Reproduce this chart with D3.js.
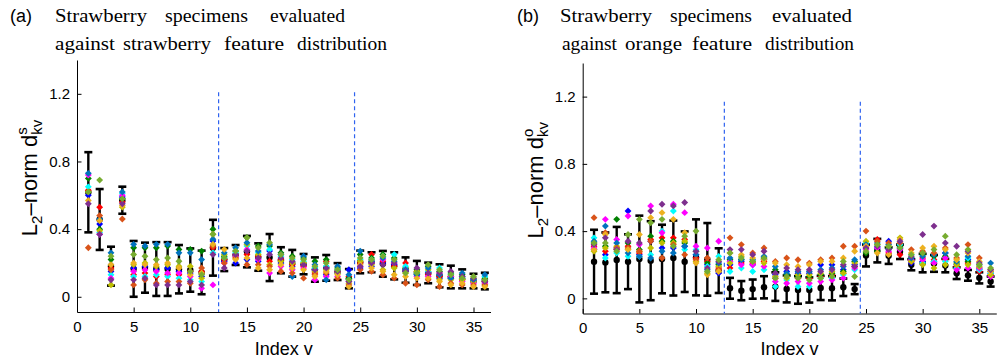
<!DOCTYPE HTML>
<html>

<head>
  <meta charset="utf-8">
  <title>d3</title>
  <script src="https://d3js.org/d3.v7.min.js"></script>
  <style>
    body { margin: 0; background: #fff; }
    text { font-family: 'Liberation Sans', Arial, sans-serif; fill: #000; }
  </style>
</head>

<body>
  <script>
    const indexV = [1, 2, 3, 4, 5, 6, 7, 8, 9, 10, 11, 12, 13, 14, 15, 16, 17, 18,
      19, 20, 21, 22, 23, 24, 25, 26, 27, 28, 29, 30, 31, 32, 33, 34, 35, 36];
    const xTicks = [0, 5, 10, 15, 20, 25, 30, 35];
    const yTicks = [0, 0.4, 0.8, 1.2];
    const groupBounds = [12.5, 24.5]; // 分組界線

    // 黑色誤差棒: 平均值與標準差
    const meanA = [0.618, 0.457, 0.181, 0.571, 0.165, 0.172, 0.164, 0.164, 0.163, 0.158, 0.144, 0.29,
      0.22, 0.247, 0.267, 0.235, 0.232, 0.216, 0.198, 0.193, 0.161, 0.171, 0.149, 0.107,
      0.206, 0.204, 0.195, 0.183, 0.158, 0.141, 0.141, 0.124, 0.117, 0.106, 0.093, 0.093];
    const stdA = [0.237, 0.18, 0.115, 0.08, 0.165, 0.148, 0.159, 0.159, 0.143, 0.128, 0.129, 0.165,
      0.068, 0.059, 0.093, 0.081, 0.139, 0.077, 0.079, 0.06, 0.072, 0.076, 0.05, 0.057,
      0.067, 0.059, 0.076, 0.08, 0.075, 0.071, 0.061, 0.068, 0.067, 0.056, 0.043, 0.049];
    const meanB = [0.218, 0.214, 0.228, 0.218, 0.234, 0.224, 0.234, 0.24, 0.218, 0.244, 0.232, 0.165,
      0.06, 0.046, 0.055, 0.066, 0.07, 0.056, 0.05, 0.05, 0.062, 0.06, 0.066, 0.055,
      0.255, 0.284, 0.254, 0.277, 0.2, 0.21, 0.208, 0.195, 0.15, 0.137, 0.122, 0.1];
    const stdB = [0.19, 0.178, 0.197, 0.163, 0.258, 0.235, 0.204, 0.223, 0.18, 0.226, 0.216, 0.133,
      0.062, 0.057, 0.057, 0.066, 0.085, 0.08, 0.082, 0.075, 0.072, 0.072, 0.052, 0.03,
      0.065, 0.07, 0.049, 0.043, 0.033, 0.055, 0.05, 0.04, 0.035, 0.032, 0.033, 0.03];

    // 各草莓樣本 (a) strawberry distribution
    const aBlue = [.60, .43, .15, .59, .17, .18, .16, .17, .15, .14, .12, .33, .21, .20, .22, .21, .27, .20, .18, .19, .16, .13, .14, .16, .17, .18, .20, .19, .15, .13, .14, .11, .11, .12, .09, .10];
    const aRed = [.63, .53, .17, .56, .13, .14, .12, .13, .13, .15, .15, .29, .22, .25, .25, .24, .21, .22, .19, .18, .14, .21, .15, .12, .20, .25, .21, .18, .20, .15, .13, .12, .12, .10, .10, .09];
    const aGreen = [.70, .40, .22, .58, .29, .29, .29, .30, .28, .28, .27, .40, .24, .27, .35, .30, .30, .26, .24, .23, .21, .22, .17, .11, .25, .23, .25, .23, .17, .16, .18, .15, .14, .13, .11, .11];
    const aCyan = [.65, .38, .13, .61, .12, .12, .13, .12, .11, .10, .09, .26, .23, .26, .30, .26, .28, .24, .22, .21, .17, .18, .16, .10, .22, .22, .24, .25, .18, .14, .15, .17, .13, .11, .10, .12];
    const aMagenta = [.72, .37, .11, .60, .15, .16, .15, .14, .14, .12, .05, .07, .20, .24, .28, .22, .14, .18, .16, .17, .10, .12, .12, .09, .18, .20, .22, .20, .16, .12, .12, .14, .12, .09, .08, .08];
    const aOlive = [.62, .39, .07, .53, .19, .20, .18, .19, .18, .18, .11, .37, .25, .23, .31, .25, .19, .21, .20, .20, .15, .16, .14, .08, .21, .19, .16, .17, .14, .15, .16, .10, .10, .10, .09, .07];
    const aSteel = [.73, .46, .26, .62, .31, .30, .31, .31, .26, .26, .22, .34, .26, .29, .32, .27, .31, .25, .12, .24, .19, .10, .18, .13, .27, .21, .23, .21, .16, .13, .17, .13, .11, .14, .10, .13];
    const aOrange = [.29, .48, .16, .46, .07, .10, .08, .09, .09, .08, .17, .30, .20, .23, .19, .19, .18, .15, .14, .11, .13, .14, .11, .07, .16, .15, .13, .11, .08, .07, .10, .06, .08, .07, .07, .07];
    const aYellow = [.57, .45, .19, .54, .20, .19, .19, .20, .17, .13, .14, .31, .28, .22, .23, .17, .16, .19, .17, .16, .12, .15, .13, .06, .19, .17, .15, .13, .12, .11, .11, .09, .07, .08, .06, .06];
    const aPurple = [.55, .37, .10, .55, .10, .11, .07, .07, .07, .09, .07, .25, .17, .25, .27, .23, .25, .23, .21, .19, .16, .17, .15, .09, .18, .20, .19, .20, .15, .17, .14, .14, .15, .12, .11, .09];
    const aLime = [.62, .69, .24, .58, .25, .24, .22, .23, .21, .15, .13, .37, .23, .27, .35, .29, .32, .25, .23, .22, .18, .20, .16, .10, .23, .22, .24, .22, .14, .14, .19, .16, .13, .11, .12, .10];

    // 各草莓樣本 (b) orange distribution
    const bBlue = [.29, .26, .30, .52, .26, .34, .30, .30, .31, .26, .20, .15, .20, .22, .20, .23, .14, .16, .15, .15, .20, .20, .17, .20, .30, .30, .34, .30, .21, .22, .22, .27, .20, .23, .17, .15];
    const bRed = [.31, .28, .29, .31, .27, .35, .36, .36, .35, .24, .22, .18, .18, .21, .21, .22, .12, .13, .12, .12, .13, .14, .15, .19, .31, .35, .27, .26, .22, .24, .23, .23, .19, .21, .16, .14];
    const bGreen = [.33, .31, .47, .33, .29, .37, .34, .34, .33, .28, .21, .20, .23, .23, .22, .24, .17, .14, .13, .13, .14, .15, .16, .22, .27, .28, .30, .31, .24, .26, .25, .25, .21, .22, .18, .16];
    const bCyan = [.36, .24, .27, .25, .25, .26, .40, .52, .29, .29, .19, .25, .16, .18, .16, .17, .07, .11, .07, .07, .12, .12, .14, .17, .33, .31, .29, .32, .26, .21, .22, .22, .18, .24, .17, .15];
    const bMagenta = [.30, .47, .35, .49, .32, .55, .39, .56, .51, .31, .30, .34, .22, .20, .20, .19, .10, .09, .10, .09, .10, .11, .12, .18, .29, .30, .28, .29, .23, .23, .21, .24, .17, .18, .18, .13];
    const bOlive = [.28, .30, .31, .29, .28, .30, .33, .33, .34, .22, .15, .19, .21, .25, .22, .21, .13, .12, .14, .14, .15, .16, .15, .21, .34, .32, .31, .36, .22, .20, .18, .20, .20, .20, .19, .14];
    const bSteel = [.34, .43, .33, .27, .25, .24, .28, .27, .31, .26, .17, .21, .24, .23, .23, .25, .19, .15, .16, .16, .17, .18, .19, .23, .32, .33, .32, .30, .24, .25, .26, .27, .22, .25, .20, .21];
    const bOrange = [.48, .39, .30, .30, .28, .34, .24, .32, .26, .23, .24, .17, .36, .32, .27, .30, .22, .24, .23, .21, .23, .24, .31, .31, .40, .34, .33, .33, .29, .28, .27, .30, .24, .32, .24, .17];
    const bYellow = [.29, .38, .29, .29, .38, .48, .51, .47, .39, .21, .14, .16, .27, .26, .24, .23, .21, .20, .19, .20, .22, .22, .24, .28, .31, .27, .26, .35, .27, .30, .31, .29, .23, .27, .22, .16];
    const bPurple = [.32, .36, .29, .34, .33, .52, .56, .55, .57, .28, .18, .22, .29, .29, .26, .28, .15, .18, .17, .17, .16, .17, .20, .19, .30, .31, .29, .34, .25, .38, .43, .33, .31, .28, .21, .17];
    const bLime = [.33, .33, .28, .38, .47, .45, .47, .31, .37, .40, .16, .23, .27, .24, .22, .24, .12, .13, .12, .11, .12, .13, .22, .13, .28, .32, .31, .30, .26, .27, .29, .37, .26, .29, .20, .18];

    const specimenColors = ['#0000ff', '#ff0000', '#008000', '#00ffff', '#ff00ff', '#bfbf00',
      '#0072bd', '#d95319', '#edb120', '#7e2f8e', '#77ac30'];

    // 標題文字: [字, 左, 右, 基線]
    const panels = [
      {
        tag: '(a)', sup: 's', xr: [77, 490.5], yr: [312, 60], dashTop: 1.21,
        mean: meanA, std: stdA,
        specimens: [aBlue, aRed, aGreen, aCyan, aMagenta, aOlive, aSteel, aOrange, aYellow, aPurple, aLime],
        tagX: 10,
        words: [
          ['Strawberry', 55, 147, 22], ['specimens', 165, 248, 22], ['evaluated', 270, 345, 22],
          ['against', 55, 115, 50], ['strawberry', 123, 211, 50], ['feature', 224, 284, 50], ['distribution', 297, 387, 50],
        ],
      },
      {
        tag: '(b)', sup: 'o', xr: [582.7, 996.3], yr: [313.5, 63], dashTop: 1.17,
        mean: meanB, std: stdB,
        specimens: [bBlue, bRed, bGreen, bCyan, bMagenta, bOlive, bSteel, bOrange, bYellow, bPurple, bLime],
        tagX: 517,
        words: [
          ['Strawberry', 560, 652, 22], ['specimens', 670, 752, 22], ['evaluated', 772, 852, 22],
          ['against', 562, 617, 50], ['orange', 625, 682, 50], ['feature', 692, 752, 50], ['distribution', 765, 854, 50],
        ],
      },
    ];

    const svg = d3.select('body').append('svg')
      .attr('width', 997)
      .attr('height', 362);

    const diamond = d3.symbol().type(d3.symbolDiamond2).size(30);

    panels.forEach((p) => {
      const x = d3.scaleLinear().domain([0, 36.5]).range(p.xr);
      const y = d3.scaleLinear().domain([-0.09, 1.4]).range(p.yr);
      const g = svg.append('g');

      // 標題
      g.append('text')
        .attr('x', p.tagX)
        .attr('y', 22)
        .style('font-size', '18px')
        .text(p.tag);

      g.selectAll('text.word')
        .data(p.words)
        .enter()
        .append('text')
        .attr('class', 'word')
        .attr('x', d => d[1])
        .attr('y', d => d[3])
        .attr('textLength', d => d[2] - d[1])
        .attr('lengthAdjust', 'spacingAndGlyphs')
        .style('font-family', "'Liberation Serif', 'Times New Roman', serif")
        .style('font-size', '19px')
        .text(d => d[0]);

      // 座標軸 (刻度朝內)
      const xAxis = g.append('g')
        .attr('transform', `translate(0,${p.yr[0]})`)
        .call(d3.axisBottom(x).tickValues(xTicks).tickFormat(d3.format('d'))
          .tickSizeInner(-4.5).tickSizeOuter(0).tickPadding(9));

      const yAxis = g.append('g')
        .attr('transform', `translate(${p.xr[0]},0)`)
        .call(d3.axisLeft(y).tickValues(yTicks).tickFormat(d3.format('~g'))
          .tickSizeInner(-4.5).tickSizeOuter(0).tickPadding(7));

      [xAxis, yAxis].forEach(a => {
        a.attr('font-family', null).attr('font-size', null);
        a.selectAll('text').style('font-size', '15px');
        a.selectAll('path, line').attr('stroke', '#000');
      });

      // 軸標籤
      g.append('text')
        .attr('x', (p.xr[0] + p.xr[1]) / 2)
        .attr('y', 355)
        .attr('text-anchor', 'middle')
        .style('font-size', '18px')
        .text('Index v');

      const yl = g.append('text')
        .attr('transform', `translate(${p.xr[0] - 40},${(p.yr[0] + p.yr[1]) / 2 - 8}) rotate(-90)`)
        .attr('text-anchor', 'middle')
        .style('font-size', '22px');
      yl.append('tspan').text('L');
      yl.append('tspan').attr('dy', 5).style('font-size', '15px').text('2');
      yl.append('tspan').attr('dy', -5).text('\u2013norm d');
      const supT = yl.append('tspan').attr('dy', -10).style('font-size', '15px').text(p.sup);
      const subT = yl.append('tspan').attr('dy', 15).style('font-size', '15px').text('kv');
      subT.attr('dx', -supT.node().getComputedTextLength());

      // 分組虛線
      g.selectAll('line.bound')
        .data(groupBounds)
        .enter()
        .append('line')
        .attr('class', 'bound')
        .attr('x1', d => x(d))
        .attr('x2', d => x(d))
        .attr('y1', y(p.dashTop))
        .attr('y2', p.yr[0])
        .attr('stroke', '#2f63f0')
        .attr('stroke-width', 1.2)
        .attr('stroke-dasharray', '4,3');

      // 誤差棒
      const bars = g.selectAll('g.bar')
        .data(indexV)
        .enter()
        .append('g')
        .attr('class', 'bar')
        .attr('stroke', '#000');

      bars.append('line')
        .attr('x1', d => x(d))
        .attr('x2', d => x(d))
        .attr('y1', (d, i) => y(p.mean[i] - p.std[i]))
        .attr('y2', (d, i) => y(p.mean[i] + p.std[i]))
        .attr('stroke-width', 2.4);

      [-1, 1].forEach(sign => {
        bars.append('line')
          .attr('x1', d => x(d) - 4)
          .attr('x2', d => x(d) + 4)
          .attr('y1', (d, i) => y(p.mean[i] + sign * p.std[i]))
          .attr('y2', (d, i) => y(p.mean[i] + sign * p.std[i]))
          .attr('stroke-width', 2.6);
      });

      bars.append('circle')
        .attr('cx', d => x(d))
        .attr('cy', (d, i) => y(p.mean[i]))
        .attr('r', 3.2)
        .attr('fill', '#000')
        .attr('stroke', 'none');

      // 樣本點
      p.specimens.forEach((series, k) => {
        g.append('g')
          .selectAll('path')
          .data(series)
          .enter()
          .append('path')
          .attr('d', diamond)
          .attr('transform', (d, i) => `translate(${x(indexV[i])},${y(d)})`)
          .attr('fill', specimenColors[k]);
      });
    });
  </script>
</body>

</html>
